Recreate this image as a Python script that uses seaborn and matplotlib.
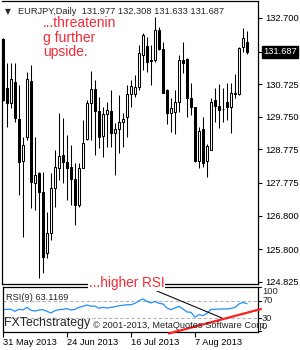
import numpy as np
import pandas as pd
import matplotlib
matplotlib.use("Agg")
import matplotlib.pyplot as plt
import matplotlib.transforms as mtransforms
import seaborn as sns

# ---------------- data ----------------
symbol = "EURJPY,Daily"
dates = pd.bdate_range("2013-05-31", periods=62)

opens = [132.07, 130.61, 130.16, 130.79, 129.69, 128.43, 129.15, 130.82, 127.77, 128.07,
         127.51, 125.69, 126.28, 127.63, 128.22, 128.61, 128.40, 128.25, 127.89, 127.12,
         128.22, 129.09, 130.16, 130.58, 129.92, 129.18, 129.83, 129.92, 129.27, 129.39,
         129.60, 129.74, 130.43, 130.43, 130.64, 131.60, 131.86, 131.42, 131.45, 132.34,
         131.77, 130.55, 129.86, 129.89, 130.19, 131.45, 131.48, 130.31, 130.04, 128.43,
         129.39, 128.43, 128.76, 130.25, 130.07, 129.98, 130.19, 130.04, 130.43, 130.43,
         131.83, 131.977]
highs = [132.10, 131.36, 131.36, 131.36, 130.70, 129.15, 131.09, 131.30, 129.15, 128.10,
         128.10, 126.91, 128.07, 128.76, 129.86, 129.71, 129.21, 128.91, 128.37, 128.37,
         129.66, 130.25, 131.12, 130.85, 130.34, 130.04, 130.19, 130.55, 129.57, 130.40,
         129.86, 130.70, 130.85, 131.00, 131.89, 132.25, 132.13, 131.89, 132.73, 132.43,
         131.98, 130.58, 130.31, 130.55, 131.60, 131.98, 131.51, 130.76, 130.04, 129.45,
         129.74, 128.94, 130.31, 130.61, 130.73, 130.61, 130.76, 130.76, 131.03, 131.82,
         132.40, 132.308]
lows = [130.22, 129.45, 130.01, 129.60, 127.42, 126.16, 129.06, 127.03, 126.97, 124.94,
        125.09, 125.54, 126.07, 127.06, 127.86, 127.77, 127.27, 127.12, 126.52, 127.06,
        128.22, 129.06, 129.06, 128.61, 128.82, 128.55, 128.85, 128.85, 128.01, 128.67,
        128.85, 129.15, 130.04, 130.34, 130.55, 131.15, 131.09, 130.70, 131.39, 131.74,
        130.46, 129.54, 129.30, 129.24, 129.89, 131.06, 129.74, 129.80, 128.40, 128.22,
        128.25, 127.95, 128.76, 129.60, 129.42, 129.60, 129.66, 129.27, 130.31, 130.40,
        131.69, 131.633]
closes = [130.25, 130.16, 130.88, 129.71, 128.40, 128.91, 130.88, 127.80, 128.01, 127.51,
          125.57, 126.28, 127.63, 128.25, 128.58, 128.40, 128.22, 127.89, 127.12, 128.22,
          128.97, 130.16, 130.58, 129.92, 129.15, 129.83, 129.95, 129.27, 129.39, 129.60,
          129.69, 130.43, 130.67, 130.64, 131.66, 132.19, 131.39, 131.45, 132.34, 131.77,
          130.46, 129.86, 130.01, 130.19, 131.45, 131.36, 130.31, 130.04, 128.43, 129.33,
          128.37, 128.88, 130.19, 130.07, 129.95, 129.98, 130.04, 130.46, 130.46, 131.80,
          132.10, 131.687]
rsi = [49.6, 50.4, 50.4, 45.8, 50.4, 48.9, 54.9, 48.1, 46.6, 48.9,
       49.6, 45.8, 42.1, 47.4, 49.6, 50.4, 51.9, 48.9, 50.4, 54.9,
       57.2, 60.2, 57.2, 57.9, 52.6, 54.9, 53.4, 54.9, 56.4, 58.7,
       59.4, 60.9, 60.9, 64.0, 70.0, 73.8, 68.5, 64.7, 68.5, 64.0,
       62.5, 53.4, 49.6, 53.4, 57.2, 51.1, 44.3, 43.6, 32.5, 38.3,
       36.0, 41.3, 50.4, 50.4, 51.1, 51.1, 51.1, 52.6, 54.9, 62.5,
       66.2, 63.1]

price_ticks = [132.700, 130.725, 129.750, 128.775, 127.775, 126.800, 125.800, 124.825]
last_price = 131.687
date_tick_days = ["2013-05-31", "2013-06-24", "2013-07-16", "2013-08-07"]
rsi_levels = [70, 30]
rsi_scale_labels = [100, 70, 30, 0]
rsi_value_text = "RSI(9) 63.1169"

# ---------------- style ----------------
sns.set_style("white")
plt.rcParams["font.family"] = ["Liberation Sans", "DejaVu Sans"]
FS = 6.7
RED = "#f52a36"

W, H = 300, 350
fig = plt.figure(figsize=(3.0, 3.5), dpi=100)
fx = lambda px: px / W
fy = lambda py: 1 - py / H

ax = fig.add_axes([fx(2), fy(284), 256 / W, 283 / H])
rax = fig.add_axes([fx(3), fy(332), 255 / W, 45 / H])

df = pd.DataFrame({"pos": np.arange(len(dates)), "date": dates, "open": opens,
                   "high": highs, "low": lows, "close": closes, "rsi": rsi})

# ---------------- candles ----------------
up = df["close"] >= df["open"]
ax.vlines(df["pos"], df["low"], df["high"], color="black", lw=0.75, zorder=2)
body_bot = np.minimum(df["open"], df["close"])
body_h = np.maximum(np.abs(df["close"] - df["open"]), 0.015)
ax.bar(df["pos"], body_h, bottom=body_bot, width=0.5,
       color=np.where(up, "white", "black"), edgecolor="black", linewidth=0.75, zorder=3)

ax.set_xlim(-0.25, 63.75)
ax.set_ylim(124.76, 133.207)
ax.yaxis.tick_right()
ax.set_yticks(price_ticks)
ax.set_yticklabels([f"{t:.3f}" for t in price_ticks])
ax.set_xticks([])
ax.tick_params(axis="y", direction="out", length=3, width=0.8, pad=2,
               labelsize=FS, colors="black", right=True, left=False)
for s in ax.spines.values():
    s.set_color("black")
    s.set_linewidth(0.9)
ax.spines["left"].set_bounds(124.76, opens[0])

trans = mtransforms.blended_transform_factory(ax.transAxes, ax.transData)
ax.plot([1.0, 1.016], [last_price, last_price], color="black", lw=0.8,
        transform=trans, clip_on=False)
ax.text(1.02, last_price, f"{last_price:.3f}", transform=trans, fontsize=FS,
        color="white", va="center", ha="left",
        bbox=dict(boxstyle="square,pad=0.15", fc="black", ec="black"))

# ---------------- RSI ----------------
sns.lineplot(data=df, x="pos", y="rsi", ax=rax, color="#1e8fff", lw=0.9, legend=False)
for lv in rsi_levels:
    rax.axhline(lv, color="#b4b4b4", lw=0.8, ls=(0, (3, 2)), zorder=1)
rax.set_xlim(0, 63.75)
rax.set_ylim(-1.14, 101.1)
rax.set_xlabel("")
rax.set_ylabel("")
rax.set_yticks([])
tick_pos = [dates.get_loc(pd.Timestamp(d)) for d in date_tick_days]
rax.set_xticks(tick_pos)
rax.set_xticklabels([f"{dates[p].day} {dates[p].strftime('%b %Y')}" for p in tick_pos],
                    ha="left")
rax.tick_params(axis="x", direction="out", length=3.6, width=0.8, pad=0.5,
                labelsize=FS, colors="black", bottom=True)
for s in rax.spines.values():
    s.set_color("black")
    s.set_linewidth(0.9)

rtrans = mtransforms.blended_transform_factory(rax.transAxes, rax.transData)
for lv in rsi_scale_labels:
    va = {100: "top", 0: "bottom"}.get(lv, "center")
    rax.text(1.016, lv, str(lv), transform=rtrans, fontsize=FS, va=va, ha="left")
    rax.plot([1.0, 1.01], [lv, lv], color="black", lw=0.8, transform=rtrans, clip_on=False)

# trend lines drawn on the RSI pane
rax.plot([34.25, 54.75], [108, 30.7], color="black", lw=0.75, clip_on=False, zorder=4)
rax.plot([41.5, 64.5], [-4.5, 51.1], color="#ff1f1f", lw=1.6, clip_on=False, zorder=5)

# ---------------- texts ----------------
fig.text(fx(5), fy(14), "\u25bc", fontsize=5.5, family="DejaVu Sans", va="baseline")
fig.text(fx(18), fy(14.5),
         f"{symbol}  {opens[-1]:.3f} {highs[-1]:.3f} {lows[-1]:.3f} {closes[-1]:.3f}",
         fontsize=FS, va="baseline", ha="left")
fig.text(fx(43), fy(16), "...threatenin\ng further\nupside.", fontsize=10, color=RED,
         va="top", ha="left", linespacing=1.05)
fig.text(fx(89), fy(287), "...higher RSI", fontsize=9.8, color=RED, va="baseline",
         ha="left", zorder=10,
         bbox=dict(boxstyle="square,pad=0.05", fc="white", ec="none"))
fig.text(fx(6.5), fy(300.5), rsi_value_text, fontsize=FS, va="baseline", ha="left")
fig.text(fx(4), fy(325.7), "FXTechstrategy", fontsize=8.9, va="baseline", ha="left")
fig.text(fx(93), fy(327.5), "\u00a9 2001-2013, MetaQuotes Software Corp.", fontsize=FS,
         va="baseline", ha="left")

fig.savefig("out.png", dpi=100, facecolor="white")
